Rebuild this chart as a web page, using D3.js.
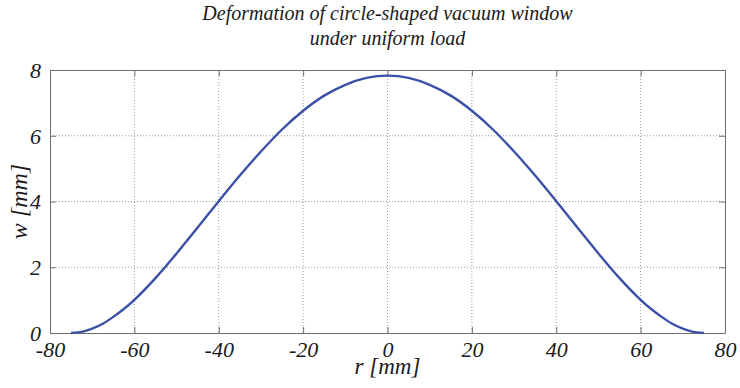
<!DOCTYPE html>
<html>
<head>
<meta charset="utf-8">
<script src="https://cdn.jsdelivr.net/npm/d3@7"></script>
<style>
  body { margin: 0; background: #fff; }
  svg text { font-family: "Liberation Serif", "DejaVu Serif", serif; font-style: italic; fill: #1a1a1a; }
</style>
</head>
<body>
<svg id="chart" width="740" height="388"></svg>
<script>
// radius r [mm] and deflection w [mm]
const rValues = [-75, -72, -70, -67.5, -65, -62.5, -60, -55, -50, -45, -40, -35, -30, -25, -20, -15, -10, -5, 0,
                 5, 10, 15, 20, 25, 30, 35, 40, 45, 50, 55, 60, 62.5, 65, 67.5, 70, 72, 75];
const wValues = [0, 0.05, 0.13, 0.28, 0.49, 0.73, 1.01, 1.67, 2.42, 3.21, 4.01, 4.79, 5.52, 6.19, 6.76, 7.22, 7.55, 7.76, 7.83,
                 7.76, 7.55, 7.22, 6.76, 6.19, 5.52, 4.79, 4.01, 3.21, 2.42, 1.67, 1.01, 0.73, 0.49, 0.28, 0.13, 0.05, 0];
const xTicks = [-80, -60, -40, -20, 0, 20, 40, 60, 80];
const yTicks = [0, 2, 4, 6, 8];
const titleLines = ["Deformation of circle-shaped vacuum window", "under uniform load"];

const margin = {top: 70, right: 15, bottom: 55, left: 50};
const width = 740 - margin.left - margin.right,
      height = 388 - margin.top - margin.bottom;

const svg = d3.select("#chart");
const g = svg.append("g").attr("transform", "translate(" + margin.left + "," + margin.top + ")");

const x = d3.scaleLinear().domain([-80, 80]).range([0, width]);
const y = d3.scaleLinear().domain([0, 8]).range([height, 0]);
const plain = d => String(d); // keep the hyphen minus like the original

// dotted grid
g.append("g").selectAll("line").data(xTicks.slice(1, -1)).enter().append("line")
    .attr("x1", d => x(d)).attr("x2", d => x(d))
    .attr("y1", 0).attr("y2", height)
    .attr("stroke", "#9a9a9a").attr("stroke-width", 1).attr("stroke-dasharray", "1,2");
g.append("g").selectAll("line").data(yTicks.slice(1, -1)).enter().append("line")
    .attr("x1", 0).attr("x2", width)
    .attr("y1", d => y(d)).attr("y2", d => y(d))
    .attr("stroke", "#9a9a9a").attr("stroke-width", 1).attr("stroke-dasharray", "1,2");

// axes, ticks pointing inward
const tickLen = 6;
const xAxis = g.append("g").attr("class", "x axis").attr("transform", "translate(0," + height + ")")
    .call(d3.axisBottom(x).tickValues(xTicks).tickFormat(plain).tickSizeInner(-tickLen).tickSizeOuter(0).tickPadding(10));
const xTop = g.append("g").call(d3.axisTop(x).tickValues(xTicks).tickSizeInner(-tickLen).tickSizeOuter(0).tickFormat(""));
const yAxis = g.append("g").attr("class", "y axis")
    .call(d3.axisLeft(y).tickValues(yTicks).tickFormat(plain).tickSizeInner(-tickLen).tickSizeOuter(0).tickPadding(9));
const yRight = g.append("g").attr("transform", "translate(" + width + ",0)")
    .call(d3.axisRight(y).tickValues(yTicks).tickSizeInner(-tickLen).tickSizeOuter(0).tickFormat(""));

[xAxis, xTop, yAxis, yRight].forEach(a => {
    a.attr("font-family", null).attr("font-size", null);
    a.selectAll("path").attr("stroke", "#6e6e6e");
    a.selectAll("line").attr("stroke", "#6e6e6e");
});
g.selectAll(".axis text").style("font-size", "22px").attr("fill", "#1a1a1a");
xAxis.selectAll("text").attr("dy", "0.62em");
yAxis.selectAll("text").attr("dy", "0.34em");

// curve
const line = d3.line().x((d, i) => x(rValues[i])).y(d => y(d)).curve(d3.curveMonotoneX);
g.append("path").datum(wValues)
    .attr("fill", "none").attr("stroke", "#3b50a8").attr("stroke-width", 2.4)
    .attr("d", line);

// title
svg.append("g").selectAll("text").data(titleLines).enter().append("text")
    .attr("x", margin.left + width / 2).attr("y", (d, i) => 20 + i * 25)
    .attr("text-anchor", "middle").style("font-size", "20px")
    .text(d => d);

// axis labels
svg.append("text").attr("x", margin.left + width / 2).attr("y", 374)
    .attr("text-anchor", "middle").style("font-size", "23px").text("r [mm]");
svg.append("text").attr("transform", "translate(27," + (margin.top + height / 2) + ") rotate(-90)")
    .attr("text-anchor", "middle").style("font-size", "24px").text("w [mm]");
</script>
</body>
</html>
